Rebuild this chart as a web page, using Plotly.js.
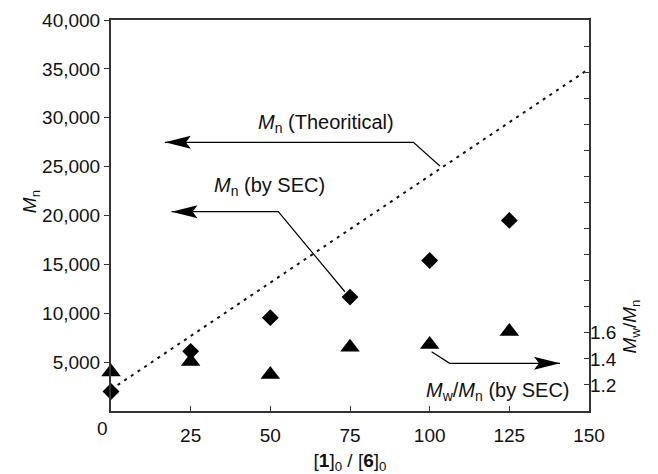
<!DOCTYPE html>
<html>
<head>
<meta charset="utf-8">
<script src="https://cdn.plot.ly/plotly-3.0.1.min.js"></script>
<style>html,body{margin:0;padding:0;background:#fff;}#chart{width:658px;height:474px;}</style>
</head>
<body>
<div id="chart"></div>
<script>
// ---- data ----
const ratio = [0, 25, 50, 75, 100, 125];               // [1]0/[6]0
const mnSEC = [2000, 6100, 9550, 11650, 15400, 19500];  // Mn by SEC
const pdiSEC = [1.30, 1.38, 1.28, 1.49, 1.51, 1.61];    // Mw/Mn by SEC
const theoRatio = [0, 150];
const theoMn = [2200, 35000];                           // Mn theoretical
const xTickVals = [25, 50, 75, 100, 125, 150];
const xTickText = ['25', '50', '75', '100', '125', '150'];
const yTickVals = [5000, 10000, 15000, 20000, 25000, 30000, 35000, 40000];
const yTickText = ['5,000', '10,000', '15,000', '20,000', '25,000', '30,000', '35,000', '40,000'];
const y2TickVals = [1.2, 1.4, 1.6];
const y2TickText = ['1.2', '1.4', '1.6'];

const FONT = 'Liberation Sans, Arial, sans-serif';
const AX = '#333';

const traces = [
  {x: theoRatio, y: theoMn, mode: 'lines', type: 'scatter',
   line: {color: '#111', width: 2, dash: '3px,5px'}, hoverinfo: 'skip', cliponaxis: false},
  {x: ratio, y: mnSEC, mode: 'markers', type: 'scatter',
   marker: {symbol: 'diamond', size: 13, color: '#000', line: {width: 0}}, cliponaxis: false},
  {x: ratio, y: pdiSEC, yaxis: 'y2', mode: 'markers', type: 'scatter',
   marker: {symbol: 'triangle-up', size: 17, color: '#000', line: {width: 0}}, cliponaxis: false}
];

const head = (x, y, dir) => {
  const s = dir;  // 1 = points left, -1 = points right
  return {type: 'path', xref: 'x', yref: 'y', xsizemode: 'pixel', ysizemode: 'pixel',
    xanchor: x, yanchor: y,
    path: `M0,0 L${26*s},6.5 L${21*s},0 L${26*s},-6.5 Z`,
    fillcolor: '#000', line: {width: 0}};
};
const seg = (pts) => ({type: 'path', xref: 'x', yref: 'y',
  path: 'M' + pts.map(p => p[0] + ',' + p[1]).join(' L'),
  line: {color: '#000', width: 1.2}});

const layout = {
  width: 658, height: 474,
  margin: {l: 111, r: 69, t: 20, b: 63},
  paper_bgcolor: '#fff', plot_bgcolor: '#fff',
  showlegend: false,
  font: {family: FONT, size: 19, color: '#111'},
  xaxis: {
    range: [0, 150], tickvals: xTickVals, ticktext: xTickText,
    ticks: 'inside', ticklen: 5, tickcolor: AX, tickwidth: 1,
    showline: true, linecolor: AX, linewidth: 2, mirror: true,
    showgrid: false, zeroline: false, ticklabelstandoff: 6,
    title: {text: '[<b>1</b>]<sub>0</sub> / [<b>6</b>]<sub>0</sub>', font: {size: 19}, standoff: 12}
  },
  yaxis: {
    range: [0, 40000], tickvals: yTickVals, ticktext: yTickText,
    ticks: 'outside', ticklen: 5, tickcolor: AX, tickwidth: 1,
    showline: true, linecolor: AX, linewidth: 2, mirror: true,
    showgrid: false, zeroline: false
  },
  yaxis2: {
    range: [1, 4], overlaying: 'y', side: 'right',
    tickvals: y2TickVals, ticktext: y2TickText,
    ticks: 'inside', ticklen: 5, tickcolor: AX, tickwidth: 1,
    minor: {tick0: 1, dtick: 0.2, ticks: 'inside', ticklen: 5, tickcolor: AX, tickwidth: 1, showgrid: false},
    showline: false, showgrid: false, zeroline: false
  },
  shapes: [
    seg([[16.9, 27490], [94.9, 27490], [103.2, 25060]]), head(16.9, 27490, 1),
    seg([[19.0, 20390], [52.5, 20390], [73.4, 12200]]), head(19.0, 20390, 1),
    seg([[100.6, 6066], [106.3, 4880], [140.9, 4880]]), head(140.9, 4880, -1)
  ],
  annotations: [
    {xref: 'x', yref: 'y', x: 67.5, y: 29430, showarrow: false,
     text: '<i>M</i><sub>n</sub> (Theoritical)', font: {size: 20}},
    {xref: 'x', yref: 'y', x: 49.7, y: 22950, showarrow: false,
     text: '<i>M</i><sub>n</sub> (by SEC)', font: {size: 20}},
    {xref: 'x', yref: 'y', x: 121.4, y: 1975, showarrow: false,
     text: '<i>M</i><sub>w</sub>/<i>M</i><sub>n</sub> (by SEC)', font: {size: 20}},
    {xref: 'paper', yref: 'paper', x: -0.0345, y: -0.046, showarrow: false,
     text: '0', font: {size: 19}, yanchor: 'middle'},
    {xref: 'paper', yref: 'paper', x: -0.198, y: 0.535, showarrow: false, textangle: -90,
     text: '<i>M</i><sub>n</sub>', font: {size: 19}},
    {xref: 'paper', yref: 'paper', x: 1.118, y: 0.143, showarrow: false, textangle: -90,
     text: '<i>M</i><sub>w</sub>/<i>M</i><sub>n</sub>', font: {size: 19}}
  ]
};

Plotly.newPlot('chart', traces, layout, {displayModeBar: false, staticPlot: true});
</script>
</body>
</html>
